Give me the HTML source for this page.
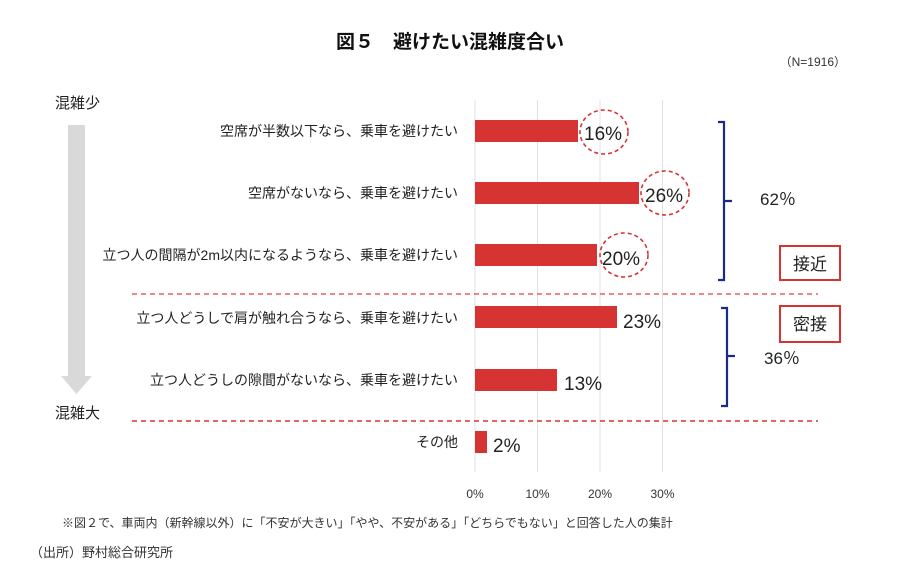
<!DOCTYPE html>
<html><head><meta charset="utf-8"><style>
body{margin:0;background:#fff}
svg{display:block;font-family:"Liberation Sans","Noto Sans CJK JP",sans-serif}
</style></head><body>
<svg width="900" height="580" viewBox="0 0 900 580" xmlns="http://www.w3.org/2000/svg">
<text x="450" y="48" text-anchor="middle" font-size="19" font-weight="bold" fill="#111">図５　避けたい混雑度合い</text>
<text x="846" y="66" text-anchor="end" font-size="12" fill="#333">（N=1916）</text>
<g stroke="#e0e0e0" stroke-width="1">
<line x1="475" y1="100" x2="475" y2="472"/><line x1="537.5" y1="100" x2="537.5" y2="472"/>
<line x1="600" y1="100" x2="600" y2="472"/><line x1="662.5" y1="100" x2="662.5" y2="472"/>
</g>
<g font-size="12" fill="#333" text-anchor="middle">
<text x="475" y="498">0%</text><text x="537.5" y="498">10%</text><text x="600" y="498">20%</text><text x="662.5" y="498">30%</text>
</g>
<text x="55" y="108" font-size="15" fill="#222">混雑少</text>
<text x="55" y="418" font-size="15" fill="#222">混雑大</text>
<rect x="68" y="125" width="17" height="253" fill="#d9d9d9"/>
<polygon points="61,376 92,376 76.5,394" fill="#d9d9d9"/>
<g font-size="14" fill="#222" text-anchor="end">
<text x="458" y="136">空席が半数以下なら、乗車を避けたい</text>
<text x="458" y="198">空席がないなら、乗車を避けたい</text>
<text x="458" y="260">立つ人の間隔が2m以内になるようなら、乗車を避けたい</text>
<text x="458" y="323">立つ人どうしで肩が触れ合うなら、乗車を避けたい</text>
<text x="458" y="385">立つ人どうしの隙間がないなら、乗車を避けたい</text>
<text x="458" y="447">その他</text>
</g>
<g fill="#d63333">
<rect x="475" y="120" width="103" height="22"/>
<rect x="475" y="182" width="164" height="22"/>
<rect x="475" y="244" width="122" height="22"/>
<rect x="475" y="306" width="142" height="22"/>
<rect x="475" y="369" width="82" height="22"/>
<rect x="475" y="431" width="12" height="22"/>
</g>
<g font-size="19" fill="#222">
<text x="584" y="140">16%</text>
<text x="645" y="202">26%</text>
<text x="602" y="265">20%</text>
<text x="623" y="328">23%</text>
<text x="564" y="390">13%</text>
<text x="493" y="452">2%</text>
</g>
<g fill="none" stroke="#d63333" stroke-width="1.6" stroke-dasharray="4,3">
<ellipse cx="604" cy="132" rx="24" ry="22"/>
<ellipse cx="665" cy="193" rx="24" ry="22"/>
<ellipse cx="624" cy="255" rx="24" ry="22"/>
</g>
<g stroke-width="1.6" stroke-dasharray="5,4">
<line x1="132" y1="294" x2="818" y2="294" stroke="#e86060"/>
<line x1="132" y1="421" x2="818" y2="421" stroke="#d63333"/>
</g>
<g fill="none" stroke="#1a2a8a" stroke-width="2.2">
<path d="M718,122 h6 v79 l8,0 l-8,0 v79 h-6"/>
<path d="M721,308 h6 v48 l8,0 l-8,0 v50 h-6"/>
</g>
<text x="760" y="205" font-size="17" fill="#222">62％</text>
<text x="764" y="364" font-size="17" fill="#222">36％</text>
<rect x="780" y="246" width="60" height="34" fill="#fff" stroke="#d63333" stroke-width="2"/>
<text x="810" y="270" text-anchor="middle" font-size="17" fill="#222">接近</text>
<rect x="780" y="306" width="60" height="36" fill="#fff" stroke="#d63333" stroke-width="2"/>
<text x="810" y="330" text-anchor="middle" font-size="17" fill="#222">密接</text>
<text x="62" y="527" font-size="12" fill="#333">※図２で、車両内（新幹線以外）に「不安が大きい」「やや、不安がある」「どちらでもない」と回答した人の集計</text>
<text x="30" y="557" font-size="13" fill="#333">（出所）野村総合研究所</text>
</svg>
</body></html>
